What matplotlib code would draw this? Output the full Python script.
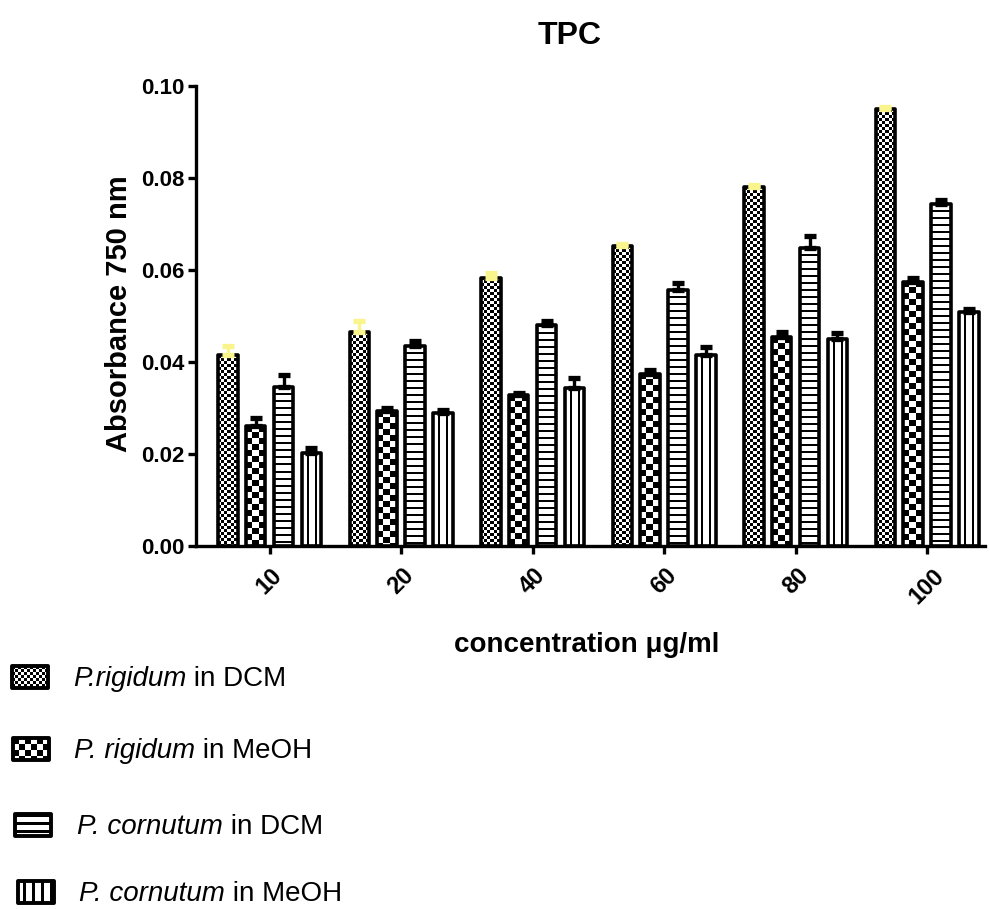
import numpy as np
import matplotlib
matplotlib.use("Agg")
import matplotlib.pyplot as plt
from matplotlib.patches import Rectangle

plt.rcParams['font.family'] = ['Liberation Sans', 'DejaVu Sans']
plt.rcParams['font.stretch'] = 'normal'

# ---- data -------------------------------------------------------------
concentrations = ['10', '20', '40', '60', '80', '100']

rigidum_dcm = [0.0415, 0.0465, 0.0583, 0.0652, 0.0780, 0.0949]
rigidum_dcm_err = [0.0020, 0.0025, 0.0010, 0.0005, 0.0005, 0.0005]

rigidum_meoh = [0.0260, 0.0293, 0.0328, 0.0375, 0.0454, 0.0574]
rigidum_meoh_err = [0.0018, 0.0007, 0.0005, 0.0008, 0.0011, 0.0009]

cornutum_dcm = [0.0346, 0.0435, 0.0480, 0.0557, 0.0648, 0.0744]
cornutum_dcm_err = [0.0025, 0.0010, 0.0010, 0.0015, 0.0027, 0.0009]

cornutum_meoh = [0.0202, 0.0290, 0.0343, 0.0415, 0.0451, 0.0509]
cornutum_meoh_err = [0.0010, 0.0005, 0.0023, 0.0017, 0.0011, 0.0006]

series_species = ['P.rigidum', 'P. rigidum', 'P. cornutum', 'P. cornutum']
series_solvent = [' in DCM', ' in MeOH', ' in DCM', ' in MeOH']

# ---- helpers ------------------------------------------------------------
def pattern(kind, h, w):
    """Black/white fill pattern in device pixels (1 = white, 0 = black)."""
    yy, xx = np.mgrid[0:max(h, 1), 0:max(w, 1)]
    if kind == 'fine':
        a = (yy // 3 + xx // 3) % 2
    elif kind == 'coarse':
        a = (yy // 6 + xx // 6) % 2
    elif kind == 'hlines':
        a = (yy % 7 >= 2)
    elif kind == 'vlines':
        a = (xx % 7 < 5)
    elif kind == 'hlines_big':
        a = (yy % 8 >= 3)
    elif kind == 'vlines_big':
        a = ((xx + 4) % 9 >= 3)
    return a.astype(float)


def fill_patch(ax, patch, kind, zorder):
    bb = patch.get_window_extent()
    w_px, h_px = int(round(bb.width)), int(round(bb.height))
    x0, y0 = patch.get_xy()
    w, h = patch.get_width(), patch.get_height()
    img = pattern(kind, h_px, w_px)
    im = ax.imshow(img, cmap='gray', vmin=0, vmax=1, interpolation='nearest',
                   extent=(x0, x0 + w, y0, y0 + h), aspect='auto', zorder=zorder)
    im.set_clip_path(patch)
    return im


# ---- figure -----------------------------------------------------------
fig = plt.figure(figsize=(9.9, 9.09), dpi=100)
ax = fig.add_axes([196 / 990, 1 - 546 / 909, (985 - 196) / 990, (546 - 86) / 909])

xlim = (-0.56, 5.44)
ylim = (0.0, 0.10)
ax.set_xlim(*xlim)
ax.set_ylim(*ylim)

x = np.arange(len(concentrations))
step = 0.212
bar_w = 0.148
series = [(rigidum_dcm, rigidum_dcm_err, 'fine', '#F9F48C'),
          (rigidum_meoh, rigidum_meoh_err, 'coarse', 'black'),
          (cornutum_dcm, cornutum_dcm_err, 'hlines', 'black'),
          (cornutum_meoh, cornutum_meoh_err, 'vlines', 'black')]

lw = 2.6
for i, (vals, errs, kind, ecol) in enumerate(series):
    pos = x + (i - 1.5) * step
    bars = ax.bar(pos, vals, width=bar_w, facecolor='none', edgecolor='black',
                  linewidth=lw, zorder=3)
    for b in bars:
        b.set_joinstyle('round')
        fill_patch(ax, b, kind, zorder=2)
    ax.errorbar(pos, vals, yerr=[np.zeros(len(vals)), errs], fmt='none',
                ecolor=ecol, elinewidth=2.4, capsize=4.5, capthick=3.8, zorder=4)

ax.set_xlim(*xlim)
ax.set_ylim(*ylim)

for s in ('top', 'right'):
    ax.spines[s].set_visible(False)
for s in ('left', 'bottom'):
    ax.spines[s].set_linewidth(2.4)

ax.set_yticks(np.arange(0, 0.1001, 0.02))
ax.set_yticklabels([f'{v:.2f}' for v in np.arange(0, 0.1001, 0.02)])
ax.set_xticks(x)
ax.set_xticklabels(concentrations, rotation=45, ha='center', va='top')
ax.tick_params(axis='both', direction='out', length=6, width=2.4, labelsize=16,
               pad=2)
ax.tick_params(axis='x', pad=7, labelsize=17)
for lab in ax.get_xticklabels() + ax.get_yticklabels():
    lab.set_fontweight('bold')
    lab.set_fontstretch('normal')

fig.text(570 / 990, 1 - 36 / 909, 'TPC', ha='center', va='center',
         fontsize=23, fontweight='bold')
fig.text(587 / 990, 1 - 645 / 909, 'concentration \u03bcg/ml', ha='center',
         va='center', fontsize=20, fontweight='bold')
fig.text(119 / 990, 1 - 314 / 909, 'Absorbance 750 nm', ha='center',
         va='center', rotation=90, fontsize=21, fontweight='bold')

# ---- legend drawn in pixel coordinates ---------------------------------
lax = fig.add_axes([0, 0, 1, 1], zorder=5)
lax.set_xlim(0, 990)
lax.set_ylim(909, 0)
lax.axis('off')
lax.patch.set_visible(False)

legend_kinds = ['fine', 'coarse', 'hlines_big', 'vlines_big']
row_y = [677, 749, 825, 892]
patch_x = [12, 13, 15, 18]
text_x = [73, 74, 77, 79]
for k in range(4):
    rect = Rectangle((patch_x[k], row_y[k] - 11), 36, 22, facecolor='none',
                     edgecolor='black', linewidth=2.8, joinstyle='round',
                     zorder=3)
    lax.add_patch(rect)
    bb = rect.get_window_extent()
    img = pattern(legend_kinds[k], int(round(bb.height)), int(round(bb.width)))
    im = lax.imshow(img, cmap='gray', vmin=0, vmax=1, interpolation='nearest',
                    extent=(patch_x[k], patch_x[k] + 36, row_y[k] + 11, row_y[k] - 11),
                    aspect='auto', zorder=2)
    im.set_clip_path(rect)
    base = row_y[k] + 9
    t1 = lax.text(text_x[k], base, series_species[k], fontsize=20,
                  fontstyle='italic', va='baseline', ha='left')
    lax.annotate(series_solvent[k], xy=(1, base), xycoords=(t1, 'data'),
                 fontsize=20, va='baseline', ha='left')
lax.set_xlim(0, 990)
lax.set_ylim(909, 0)

fig.savefig('out.png', dpi=100)
